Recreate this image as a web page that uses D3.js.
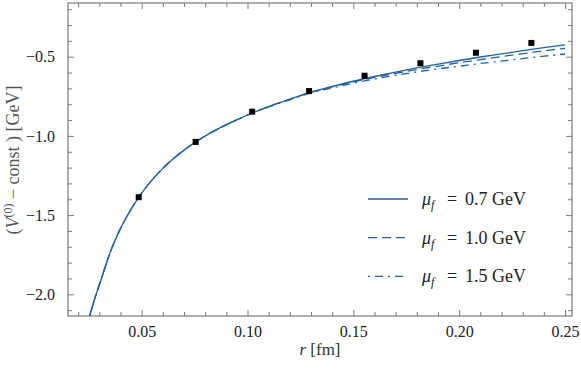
<!DOCTYPE html>
<html>
<head>
<meta charset="utf-8">
<script src="https://cdn.jsdelivr.net/npm/d3@7"></script>
<style>
    body { margin: 0; background: #fff; }
    text { font-family: "Liberation Serif", "DejaVu Serif", serif; }
</style>
</head>
<body>
<svg id="chart" width="581" height="370"></svg>
<script>
// lattice points (r in fm, V in GeV)
const latticeR = [0.0486, 0.0755, 0.1022, 0.1291, 0.1553, 0.1817, 0.2079, 0.2341];
const latticeV = [-1.387, -1.038, -0.847, -0.717, -0.620, -0.541, -0.475, -0.413];

// curves
const curveR = [0.0254, 0.028, 0.031, 0.035, 0.040, 0.045, 0.050, 0.060, 0.070, 0.080, 0.090,
    0.100, 0.110, 0.120, 0.130, 0.140, 0.150, 0.160, 0.170, 0.180, 0.190, 0.200,
    0.210, 0.220, 0.230, 0.240, 0.250];
const curveMu07 = [-2.137, -2.02, -1.900, -1.740, -1.585, -1.463, -1.361, -1.205, -1.090, -1.001, -0.929,
    -0.868, -0.815, -0.768, -0.723, -0.688, -0.655, -0.625, -0.597, -0.571, -0.547, -0.524,
    -0.502, -0.482, -0.462, -0.443, -0.425];
const curveMu10 = [-2.137, -2.02, -1.900, -1.740, -1.585, -1.463, -1.361, -1.205, -1.090, -1.001, -0.929,
    -0.868, -0.815, -0.769, -0.725, -0.691, -0.659, -0.631, -0.605, -0.581, -0.559, -0.538,
    -0.518, -0.499, -0.481, -0.463, -0.447];
const curveMu15 = [-2.137, -2.02, -1.900, -1.740, -1.585, -1.463, -1.361, -1.205, -1.090, -1.001, -0.930,
    -0.869, -0.817, -0.772, -0.729, -0.697, -0.667, -0.641, -0.617, -0.596, -0.577, -0.560,
    -0.543, -0.528, -0.512, -0.497, -0.483];

const legendLabels = ["0.7", "1.0", "1.5"];
const xTicks = [0.05, 0.10, 0.15, 0.20, 0.25];
const yTicks = [-2.0, -1.5, -1.0, -0.5];

const blue = "#1d62a6";
const dashes = [null, "9,5", "2,5,8,5"];

const svg = d3.select("#chart");
const pLeft = 68, pRight = 572, pTop = 3, pBottom = 316;

const x = d3.scaleLinear().domain([0.0152, 0.2533]).range([pLeft, pRight]);
const y = d3.scaleLinear().domain([-2.137, -0.161]).range([pBottom, pTop]);

const xMinor = d3.range(2, 26).map(i => i / 100).filter(v => !xTicks.some(t => Math.abs(t - v) < 1e-6));
const yMinor = d3.range(-21, -1).map(i => i / 10).filter(v => !yTicks.some(t => Math.abs(t - v) < 1e-6));

const axisColor = "#7a7a7a";

function styleAxis(g) {
    g.select(".domain").remove();
    g.selectAll(".tick line").attr("stroke", axisColor).attr("stroke-width", 1);
    g.selectAll(".tick text").attr("fill", "#222").style("font-size", "16px").style("font-family", "Liberation Serif");
}

// bottom
svg.append("g").attr("transform", `translate(0,${pBottom})`)
    .call(d3.axisBottom(x).tickValues(xTicks).tickFormat(d3.format(".2f")).tickSize(-6).tickPadding(10))
    .call(styleAxis);
svg.append("g").attr("transform", `translate(0,${pBottom})`)
    .call(d3.axisBottom(x).tickValues(xMinor).tickFormat("").tickSize(-4))
    .call(styleAxis);
// top
svg.append("g").attr("transform", `translate(0,${pTop})`)
    .call(d3.axisTop(x).tickValues(xTicks).tickFormat("").tickSize(-6))
    .call(styleAxis);
svg.append("g").attr("transform", `translate(0,${pTop})`)
    .call(d3.axisTop(x).tickValues(xMinor).tickFormat("").tickSize(-4))
    .call(styleAxis);
// left
svg.append("g").attr("transform", `translate(${pLeft},0)`)
    .call(d3.axisLeft(y).tickValues(yTicks).tickFormat(d3.format(".1f")).tickSize(-6).tickPadding(13))
    .call(styleAxis);
svg.append("g").attr("transform", `translate(${pLeft},0)`)
    .call(d3.axisLeft(y).tickValues(yMinor).tickFormat("").tickSize(-4))
    .call(styleAxis);
// right
svg.append("g").attr("transform", `translate(${pRight},0)`)
    .call(d3.axisRight(y).tickValues(yTicks).tickFormat("").tickSize(-6))
    .call(styleAxis);
svg.append("g").attr("transform", `translate(${pRight},0)`)
    .call(d3.axisRight(y).tickValues(yMinor).tickFormat("").tickSize(-4))
    .call(styleAxis);

// frame
svg.append("rect")
    .attr("x", pLeft).attr("y", pTop)
    .attr("width", pRight - pLeft).attr("height", pBottom - pTop)
    .attr("fill", "none").attr("stroke", axisColor).attr("stroke-width", 1.2);

svg.append("defs").append("clipPath").attr("id", "clip")
    .append("rect")
    .attr("x", pLeft).attr("y", pTop)
    .attr("width", pRight - pLeft).attr("height", pBottom - pTop);

const line = d3.line()
    .x(d => x(d[0]))
    .y(d => y(d[1]))
    .curve(d3.curveMonotoneX);

const curves = [curveMu07, curveMu10, curveMu15];
const plot = svg.append("g").attr("clip-path", "url(#clip)");

curves.forEach((vals, i) => {
    plot.append("path")
        .datum(curveR.map((r, j) => [r, vals[j]]))
        .attr("fill", "none")
        .attr("stroke", blue)
        .attr("stroke-width", 1.3)
        .attr("stroke-dasharray", dashes[i])
        .attr("d", line);
});

// lattice squares
plot.selectAll(".pt")
    .data(latticeR.map((r, i) => [r, latticeV[i]]))
    .enter().append("rect")
    .attr("class", "pt")
    .attr("x", d => x(d[0]) - 3)
    .attr("y", d => y(d[1]) - 3)
    .attr("width", 6).attr("height", 6)
    .attr("fill", "#000");

// legend
const legend = svg.append("g");
legendLabels.forEach((lab, i) => {
    const ly = 199 + i * 38.7;
    legend.append("line")
        .attr("x1", 368).attr("x2", 408)
        .attr("y1", ly).attr("y2", ly)
        .attr("stroke", blue).attr("stroke-width", 1.3)
        .attr("stroke-dasharray", dashes[i]);
    const t = legend.append("text")
        .attr("y", ly + 6)
        .attr("fill", "#222")
        .style("font-size", "18px");
    t.append("tspan").attr("x", 422).attr("font-style", "italic").text("μ");
    t.append("tspan").attr("font-style", "italic").attr("dy", 4).style("font-size", "12px").text("f");
    t.append("tspan").attr("x", 447).attr("dy", -4).text("=");
    t.append("tspan").attr("x", 465).text(lab);
    t.append("tspan").attr("x", 492).text("GeV");
});

// axis titles
const xt = svg.append("text")
    .attr("x", 320).attr("y", 355)
    .attr("text-anchor", "middle")
    .attr("fill", "#333")
    .style("font-size", "17px");
xt.append("tspan").attr("font-style", "italic").text("r");
xt.append("tspan").text(" [fm]");

const yt = svg.append("text")
    .attr("transform", "translate(19,160) rotate(-90)")
    .attr("text-anchor", "middle")
    .attr("fill", "#555")
    .style("font-size", "18px");
yt.append("tspan").text("(");
yt.append("tspan").attr("font-style", "italic").text("V");
yt.append("tspan").attr("dy", -7).style("font-size", "12px").text("(0)");
yt.append("tspan").attr("dy", 7).text("  −  const ) [GeV]");
</script>
</body>
</html>
